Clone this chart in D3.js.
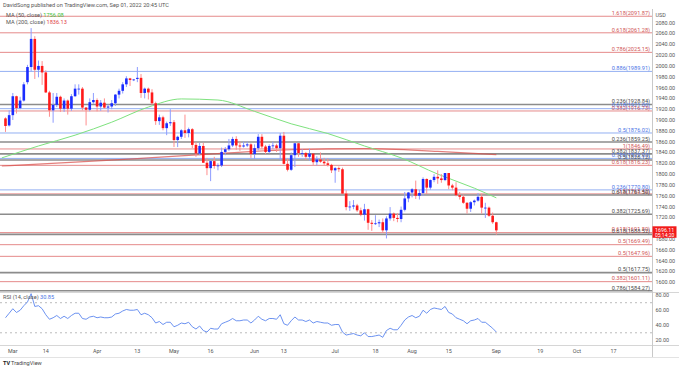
<!DOCTYPE html>
<html><head><meta charset="utf-8">
<script src="https://cdn.jsdelivr.net/npm/d3@7"></script>
<style>
html,body{margin:0;padding:0;background:#fff;}
svg{display:block;font-family:Roboto,"Liberation Sans",Arial,sans-serif;}
</style></head>
<body>
<svg id="c" width="679" height="368"></svg>
<script>
// ---------- DATA ----------
const firstDay = "2022-02-25";
const opens = [1903,1890,
 1909,1944,1922,1936,1970,1998,2050,1993,2000,1988,1951,1918,1928,1943,1921,1936,1921,1944,1958,1958,1923,1919,1933,
 1937,1925,1932,1923,1925,1931,1947,1954,1966,1977,1974,1976,1978,1950,1958,1951,1931,1898,1905,1885,1894,
 1896,1863,1869,1881,1876,1883,1854,1838,1852,1821,1811,1824,1815,1816,1841,1846,1853,1865,1853,1851,1853,1855,
 1837,1848,1869,1851,1841,1852,1853,1848,1871,1819,1808,1835,1857,1839,1839,1832,1838,1822,1827,1823,1820,1817,
 1807,1811,1809,1764,1739,1740,1742,1733,1725,1735,1710,1708,1709,1711,1696,1718,1727,1719,1717,1734,1755,
 1766,1772,1760,1765,1791,1775,1789,1795,1792,1789,1802,1779,1775,1761,1758,1747,1736,1748,1751,1758,1738,1738,1723,
 1711];
const highs = [1905,1918,
 1950,1945,1943,1970,2002,2070,2055,2010,2009,1992,1954,1950,1950,1945,1940,1938,1948,1966,1966,1961,1924,1940,1950,
 1940,1937,1940,1929,1937,1948,1958,1970,1981,1978,1976,1998,1985,1960,1960,1957,1934,1910,1908,1897,1920,
 1900,1871,1883,1910,1886,1885,1859,1858,1858,1830,1826,1832,1820,1849,1850,1865,1869,1870,1860,1860,1860,1857,
 1855,1874,1874,1854,1855,1860,1856,1876,1878,1829,1840,1857,1857,1846,1841,1847,1838,1833,1840,1830,1829,1819,
 1813,1814,1812,1770,1750,1752,1745,1738,1745,1736,1715,1724,1716,1718,1722,1739,1729,1728,1740,1767,1767,
 1774,1788,1771,1794,1792,1790,1800,1807,1800,1802,1802,1782,1785,1767,1762,1748,1750,1753,1765,1764,1747,1740,1729,
 1712];
const lows = [1878,1888,
 1900,1912,1920,1934,1966,1990,1976,1979,1965,1950,1906,1895,1924,1915,1915,1910,1917,1943,1947,1918,1890,1916,1930,
 1916,1917,1921,1914,1920,1926,1940,1949,1961,1963,1972,1970,1941,1940,1938,1928,1891,1891,1881,1872,1889,
 1850,1850,1865,1867,1868,1848,1832,1835,1821,1798,1787,1810,1807,1813,1835,1843,1850,1845,1843,1849,1850,1830,
 1828,1844,1847,1837,1838,1846,1841,1825,1818,1805,1806,1813,1832,1832,1826,1825,1817,1816,1821,1815,1814,1802,
 1784,1804,1763,1733,1732,1735,1730,1722,1714,1697,1695,1706,1702,1692,1681,1714,1713,1711,1711,1731,1748,
 1757,1754,1753,1760,1763,1771,1785,1782,1784,1787,1772,1770,1759,1753,1745,1727,1730,1742,1749,1727,1719,1721,1708,
 1688];
const closes = [1889,1909,
 1944,1922,1936,1966,1998,2050,1993,2000,1988,1951,1918,1928,1943,1921,1936,1921,1944,1958,1958,1923,1919,1933,1937,
 1925,1932,1923,1925,1931,1947,1954,1966,1977,1974,1975,1978,1950,1958,1951,1931,1898,1905,1885,1894,1896,
 1863,1869,1881,1876,1883,1854,1838,1852,1821,1811,1824,1815,1816,1841,1846,1853,1865,1853,1851,1853,1855,1837,
 1848,1869,1851,1841,1852,1853,1848,1871,1819,1808,1835,1857,1839,1839,1832,1838,1822,1827,1823,1820,1817,1807,
 1811,1809,1764,1739,1740,1742,1733,1725,1735,1710,1708,1709,1711,1696,1718,1727,1719,1717,1734,1755,1766,
 1772,1760,1765,1791,1775,1789,1795,1792,1789,1802,1779,1775,1761,1758,1747,1736,1748,1751,1758,1738,1738,1723,1711,
 1696];
const rsi = [50,56,
 62,57,60,66,71,82,65,66,62,54,48,50,53,49,52,49,53,56,56,49,48,51,52,
 50,51,50,50,51,55,56,59,61,60,60,61,54,56,54,50,43,45,41,44,44,
 38,40,43,42,44,38,35,39,33,31,36,35,35,42,44,46,49,46,46,47,47,43,
 47,52,48,46,49,49,48,54,42,40,46,51,47,47,45,47,43,45,44,43,43,40,
 41,41,31,27,28,29,27,26,30,25,25,26,27,24,33,36,34,34,40,47,51,
 53,50,52,60,56,61,63,62,61,65,57,55,50,48,46,42,46,47,49,44,44,40,36,
 31];
// moving averages read at sample dates
const ma50Dates = ["2022-02-24","2022-03-10","2022-03-24","2022-04-07","2022-04-21","2022-05-04","2022-05-18","2022-06-01","2022-06-15","2022-06-29","2022-07-13","2022-07-27","2022-08-10","2022-08-24","2022-09-01"];
const ma50Vals  = [1830,1852,1872,1896,1924,1939,1937,1916,1893,1875,1852,1830,1800,1774,1756.08];
const ma200Dates = ["2022-02-24","2022-03-24","2022-04-21","2022-05-18","2022-06-15","2022-07-13","2022-08-10","2022-09-01"];
const ma200Vals  = [1815,1822,1830,1838,1845,1847,1842,1836.13];
// Fibonacci levels
const fibLevels = ["1.618","0.618","0.786","0.886","0.236","0.618","0.382","0.5","0.236","1","0.382","0.786","0.5","0.618","0.236","0.5","0.618","0.382","0.618","0.618","0.5","0.5","0.5","0.382","0.786"];
const fibPrices = [2091.87,2061.28,2025.15,1989.91,1928.84,1921.00,1916.73,1876.02,1859.25,1846.49,1837.37,1829.03,1826.12,1816.23,1770.80,1763.42,1761.50,1725.69,1691.80,1688.52,1669.49,1647.96,1617.75,1601.11,1584.27];
const fibKinds  = ["r","r","r","b","g","b","r","b","g","r","g","b","g","r","b","r","g","g","r","g","r","r","g","r","g"];
const priceTicks = [1600,1620,1640,1660,1680,1720,1740,1760,1780,1800,1820,1840,1860,1880,1900,1920,1940,1960,1980,2000,2020,2040,2060,2080];
const rsiTicks = [20,40,60,80];
const timeTickDates = ["2022-03-01","2022-03-14","2022-04-01","2022-04-18","2022-05-02","2022-05-16","2022-06-01","2022-06-13","2022-07-01","2022-07-18","2022-08-01","2022-08-15","2022-09-01","2022-09-19","2022-10-03","2022-10-17"];
const timeTickLabels = ["Mar","14","Apr","13","May","16","Jun","13","Jul","18","Aug","15","Sep","19","Oct","17"];
const lastPrice = "1696.11", countdown = "05:14:20", rsiLast = "30.85";

// ---------- CALENDAR (weekday bars) ----------
const parse = d3.utcParse("%Y-%m-%d");
const allDays = d3.utcDay.range(parse("2022-02-21"), parse("2022-11-30")).filter(d => d.getUTCDay() > 0 && d.getUTCDay() < 6);
const fmt = d3.utcFormat("%Y-%m-%d");
const dayIndex = new Map(allDays.map((d, i) => [fmt(d), i]));
const i0 = dayIndex.get(firstDay);
const idx = s => dayIndex.get(s) - i0;

const svg = d3.select("#c");
const W = 679, H = 368;
const plotR = 652;
const pTop = 9, pBot = 292, rTop = 293, rBot = 344;

const x = d3.scaleLinear().domain([-1.5, 176.5]).range([0, plotR]);
const y = d3.scaleLinear().domain([1582, 2105.3]).range([pBot, pTop]);
const yr = d3.scaleLinear().domain([15.1, 82.9]).range([rBot, rTop]);

const col = {r: "#e58a8a", b: "#93aff2", g: "#8c8c8c"};
const colText = {r: "#d05656", b: "#4a74e6", g: "#4a4a4a"};

svg.append("rect").attr("width", W).attr("height", H).attr("fill", "#fff");

const gP = svg.append("g");
const defs = svg.append("defs");
defs.append("clipPath").attr("id", "cp").append("rect").attr("x", 0).attr("y", pTop).attr("width", plotR).attr("height", pBot - pTop);
defs.append("clipPath").attr("id", "cr").append("rect").attr("x", 0).attr("y", rTop).attr("width", plotR).attr("height", rBot - rTop);
const clipP = gP.append("g").attr("clip-path", "url(#cp)");

// fib lines
const fibs = fibPrices.map((p, i) => ({p, l: fibLevels[i], k: fibKinds[i]}));
clipP.selectAll("line.fib").data(fibs).join("line")
  .attr("x1", 0).attr("x2", plotR)
  .attr("y1", d => y(d.p)).attr("y2", d => y(d.p))
  .attr("stroke", d => col[d.k])
  .attr("stroke-width", d => d.k === "g" ? 1.6 : 1);
svg.selectAll("text.fib").data(fibs).join("text")
  .attr("x", plotR - 2).attr("y", d => y(d.p) - 1.2)
  .attr("text-anchor", "end").attr("font-size", 5.6)
  .attr("fill", d => colText[d.k])
  .text(d => `${d.l}(${d.p.toFixed(2)})`);

// MA lines
const line = d3.line().x(d => x(d[0])).y(d => y(d[1])).curve(d3.curveMonotoneX);
clipP.append("path").datum(ma200Dates.map((d, i) => [idx(d), ma200Vals[i]]))
  .attr("d", line).attr("fill", "none").attr("stroke", "#d9534f").attr("stroke-opacity", 0.75).attr("stroke-width", 1.2);
clipP.append("path").datum(ma50Dates.map((d, i) => [idx(d), ma50Vals[i]]))
  .attr("d", line).attr("fill", "none").attr("stroke", "#7ee27e").attr("stroke-width", 1);

// candles
const bars = closes.map((c, i) => ({i, o: opens[i], h: highs[i], l: lows[i], c}));
const bw = 2.6;
clipP.selectAll("line.wick").data(bars).join("line")
  .attr("x1", d => x(d.i)).attr("x2", d => x(d.i))
  .attr("y1", d => y(d.h)).attr("y2", d => y(d.l))
  .attr("stroke", d => d.c >= d.o ? "#8d9cff" : "#ff8d8d").attr("stroke-width", 1);
clipP.selectAll("rect.body").data(bars).join("rect")
  .attr("x", d => x(d.i) - bw / 2).attr("width", bw)
  .attr("y", d => y(Math.max(d.o, d.c)))
  .attr("height", d => Math.max(0.8, Math.abs(y(d.o) - y(d.c))))
  .attr("fill", d => d.c >= d.o ? "#1a2cff" : "#ff1a1a");

// panel separators & axis borders
svg.append("line").attr("x1", 0).attr("x2", W).attr("y1", rTop - 0.5).attr("y2", rTop - 0.5).attr("stroke", "#d6d6d6");
svg.append("line").attr("x1", 0).attr("x2", W).attr("y1", rBot + 1.5).attr("y2", rBot + 1.5).attr("stroke", "#d6d6d6");
svg.append("line").attr("x1", plotR + 0.5).attr("x2", plotR + 0.5).attr("y1", pTop).attr("y2", 358).attr("stroke", "#c9c9c9");
svg.append("line").attr("x1", 0).attr("x2", W).attr("y1", 357.5).attr("y2", 357.5).attr("stroke", "#e3e3e3");

// price axis
const ax = svg.append("g");
ax.selectAll("text.pt").data(priceTicks).join("text")
  .attr("x", plotR + 3.5).attr("y", d => y(d) + 2).attr("font-size", 5.4).attr("fill", "#555")
  .text(d => d.toFixed(2));
ax.append("text").attr("x", plotR + 3.5).attr("y", 16.5).attr("font-size", 5.4).attr("fill", "#555").text("USD");

// last price label
const lp = +lastPrice;
ax.append("rect").attr("x", plotR + 0.5).attr("y", y(lp) - 4).attr("width", 24).attr("height", 11.5).attr("fill", "#f21b1b");
ax.append("text").attr("x", plotR + 3).attr("y", y(lp) + 1.6).attr("font-size", 5.3).attr("fill", "#fff").text(lastPrice);
ax.append("text").attr("x", plotR + 3).attr("y", y(lp) + 6.4).attr("font-size", 5).attr("fill", "#fff").text(countdown);

// RSI panel
const gR = svg.append("g").attr("clip-path", "url(#cr)");
[70, 30].forEach(v => gR.append("line").attr("x1", 0).attr("x2", plotR)
  .attr("y1", yr(v)).attr("y2", yr(v)).attr("stroke", "#bbb").attr("stroke-dasharray", "2,3"));
gR.append("path").datum(rsi.map((v, i) => [i, v]))
  .attr("d", d3.line().x(d => x(d[0])).y(d => yr(d[1])))
  .attr("fill", "none").attr("stroke", "#5b86ee").attr("stroke-width", 0.9);
svg.selectAll("text.rt").data(rsiTicks).join("text")
  .attr("x", plotR + 3.5).attr("y", d => yr(d) + 2).attr("font-size", 5.4).attr("fill", "#555")
  .text(d => d.toFixed(2));
const rl = svg.append("text").attr("x", 3).attr("y", 299).attr("font-size", 5.6).attr("fill", "#555");
rl.append("tspan").text("RSI (14, close) ");
rl.append("tspan").attr("fill", "#4a74e6").text(rsiLast);

// time axis
svg.selectAll("text.tt").data(timeTickDates).join("text")
  .attr("x", d => x(idx(d))).attr("y", 352.5).attr("text-anchor", "middle")
  .attr("font-size", 5.4).attr("fill", "#555")
  .text((d, i) => timeTickLabels[i]);

// header
svg.append("text").attr("x", 3).attr("y", 6.5).attr("font-size", 5.6).attr("fill", "#555")
  .text("DavidSong published on TradingView.com, Sep 01, 2022 20:45 UTC");
const m1 = svg.append("text").attr("x", 6).attr("y", 16.5).attr("font-size", 5.6).attr("fill", "#555");
m1.append("tspan").text("MA (50, close) ");
m1.append("tspan").attr("fill", "#3cc43c").text(ma50Vals[ma50Vals.length - 1].toFixed(2));
const m2 = svg.append("text").attr("x", 6).attr("y", 24).attr("font-size", 5.6).attr("fill", "#555");
m2.append("tspan").text("MA (200, close) ");
m2.append("tspan").attr("fill", "#e04545").text(ma200Vals[ma200Vals.length - 1].toFixed(2));

// footer logo
svg.append("text").attr("x", 3).attr("y", 365).attr("font-size", 5.6).attr("font-weight", "bold").attr("fill", "#222").text("TV");
svg.append("text").attr("x", 11).attr("y", 365).attr("font-size", 5.6).attr("fill", "#444").text("TradingView");
</script>
</body></html>
